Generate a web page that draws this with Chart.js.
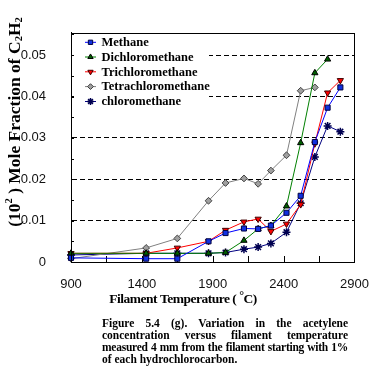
<!DOCTYPE html>
<html><head><meta charset="utf-8">
<script src="https://cdn.jsdelivr.net/npm/chart.js@4.4.1/dist/chart.umd.min.js"></script>
<style>
html,body{margin:0;padding:0;background:#fff;}
#wrap{position:relative;width:384px;height:381px;overflow:hidden;}
#c{position:absolute;left:0;top:0;}
#cap{position:absolute;left:102px;top:316.5px;width:246px;font:bold 11.5px "Liberation Serif","Times New Roman",serif;line-height:12.2px;color:#000;}
#cap div{white-space:nowrap;}
#cap .j{text-align:justify;text-align-last:justify;}
#cap .t{letter-spacing:-0.25px;}
</style></head><body>
<div id="wrap"><canvas id="c" width="384" height="381"></canvas>
<div id="cap"><div class="j">Figure 5.4 (g). Variation in the acetylene</div><div class="j">concentration versus filament temperature</div><div class="j t">measured 4 mm from the filament starting with 1%</div><div>of each hydrochlorocarbon.</div></div></div>
<script>
// ---- data ----
const temperatures = [900, 1430, 1650, 1870, 1990, 2120, 2220, 2310, 2420, 2520, 2620, 2710, 2800];
const methane          = [0.0010, 0.0008, 0.0008, 0.0050, 0.0070, 0.0081, 0.0080, 0.0088, 0.0119, 0.0160, 0.0290, 0.0373, 0.0422];
const dichloromethane  = [0.0021, 0.0021, 0.0021, 0.0021, 0.0023, 0.0052, 0.0080, 0.0088, 0.0135, 0.0288, 0.0457, 0.0490, null];
const trichloromethane = [0.0021, 0.0021, 0.0034, 0.0050, 0.0077, 0.0097, 0.0104, 0.0074, 0.0092, 0.0139, 0.0286, 0.0409, 0.0439];
const tetrachloromethane = [0.0008, 0.0034, 0.0057, 0.0148, 0.0191, 0.0202, 0.0189, 0.0221, 0.0258, 0.0414, 0.0422, null, null];
const chloromethane    = [0.0017, 0.0021, 0.0021, 0.0021, 0.0023, 0.0031, 0.0036, 0.0045, 0.0072, 0.0142, 0.0254, 0.0329, 0.0315];
const seriesNames = ['Methane', 'Dichloromethane', 'Trichloromethane', 'Tetrachloromethane', 'chloromethane'];
const xTickLabels = [900, 1400, 1900, 2400, 2900];
const yTickLabels = [0, 0.01, 0.02, 0.03, 0.04, 0.05];

const SERIF = '"Liberation Serif","Times New Roman",serif';
const SANS = '"Liberation Sans",Arial,sans-serif';

function pts(vals) {
  const out = [];
  vals.forEach((v, i) => { if (v !== null) out.push({x: temperatures[i], y: v}); });
  return out;
}
const styles = [
  {line: '#0000FF', fill: '#1030E0', border: '#000040', style: 'rect', r: 3.6, rot: 0, bw: 1},
  {line: '#008000', fill: '#006000', border: '#000000', style: 'triangle', r: 3.6, rot: 0, bw: 1},
  {line: '#FF0000', fill: '#FF0000', border: '#400000', style: 'triangle', r: 3.6, rot: 180, bw: 1},
  {line: '#808080', fill: '#A0A0A0', border: '#404040', style: 'rectRot', r: 3.4, rot: 0, bw: 1},
  {line: '#000080', fill: '#000080', border: '#000050', style: 'star', r: 4, rot: 0, bw: 1.5}
];
const seriesValues = [methane, dichloromethane, trichloromethane, tetrachloromethane, chloromethane];
const datasets = seriesValues.map((vals, i) => ({
  label: seriesNames[i],
  data: pts(vals),
  borderColor: styles[i].line,
  backgroundColor: styles[i].fill,
  borderWidth: 1,
  pointStyle: styles[i].style,
  pointRotation: styles[i].rot,
  pointRadius: styles[i].r,
  pointBackgroundColor: styles[i].fill,
  pointBorderColor: styles[i].border,
  pointBorderWidth: styles[i].bw,
  tension: 0,
  clip: 4
}));

function drawRich(ctx, parts, size, spacing) {
  let w = 0;
  ctx.letterSpacing = (spacing || 0) + 'px';
  parts.forEach(p => { ctx.font = 'bold ' + (p.s || size) + 'px ' + SERIF; p.w = ctx.measureText(p.t).width; w += p.w; });
  let x = -w / 2;
  ctx.textBaseline = 'middle';
  ctx.textAlign = 'left';
  parts.forEach(p => { ctx.font = 'bold ' + (p.s || size) + 'px ' + SERIF; ctx.fillText(p.t, x, p.dy || 0); x += p.w; });
  ctx.letterSpacing = '0px';
}

function marker(ctx, st, x, y) {
  ctx.save();
  ctx.fillStyle = st.fill; ctx.strokeStyle = st.border; ctx.lineWidth = st.bw;
  if (Chart.helpers && Chart.helpers.drawPoint) {
    Chart.helpers.drawPoint(ctx, {pointStyle: st.style, radius: st.r, rotation: st.rot, borderWidth: st.bw}, x, y);
  }
  ctx.restore();
}

const decor = {
  id: 'decor',
  beforeDatasetsDraw(chart) {
    const ctx = chart.ctx, a = chart.chartArea;
    const xs = chart.scales.x, ys = chart.scales.y;
    ctx.save();
    // legend box (white background over grid)
    ctx.fillStyle = '#fff';
    ctx.fillRect(a.left + 3, 27, 135, 83);
    const ly = [42.3, 57, 71.8, 86.6, 101.5];
    datasets.forEach((d, i) => {
      ctx.strokeStyle = styles[i].line; ctx.lineWidth = 1;
      ctx.beginPath(); ctx.moveTo(85, ly[i]); ctx.lineTo(96, ly[i]); ctx.stroke();
      marker(ctx, Object.assign({}, styles[i], {r: styles[i].r * 0.85}), 90.5, ly[i]);
      ctx.fillStyle = '#000'; ctx.font = 'bold 12.5px ' + SERIF;
      ctx.textBaseline = 'middle'; ctx.textAlign = 'left';
      ctx.fillText(d.label, 101.5, ly[i] + 0.5);
    });
    // inward minor ticks
    ctx.strokeStyle = '#000'; ctx.lineWidth = 1;
    for (let v = 0.005; v < ys.max; v += 0.005) {
      const py = Math.round(ys.getPixelForValue(v)) + 0.5;
      ctx.beginPath(); ctx.moveTo(a.left, py); ctx.lineTo(a.left + 3, py); ctx.stroke();
    }
    for (let t = 1150; t < xs.max; t += 250) {
      const px = Math.round(xs.getPixelForValue(t)) + 0.5;
      ctx.beginPath(); ctx.moveTo(px, a.bottom); ctx.lineTo(px, a.bottom - 6); ctx.stroke();
    }
    ctx.restore();
  },
  afterDraw(chart) {
    const ctx = chart.ctx, a = chart.chartArea;
    ctx.save();
    ctx.setLineDash([]);
    ctx.strokeStyle = '#000'; ctx.lineWidth = 1;
    ctx.strokeRect(Math.round(a.left) + 0.5, Math.round(a.top) + 0.5, Math.round(a.right - a.left) - 1, Math.round(a.bottom - a.top));
    ctx.fillStyle = '#000';
    // y axis title
    ctx.save();
    ctx.translate(15, 122);
    ctx.rotate(-Math.PI / 2);
    drawRich(ctx, [{t: '(10'}, {t: '2', s: 10.5, dy: -6}, {t: ' ) Mole Fraction of C'}, {t: '2', s: 10.5, dy: 4}, {t: 'H'}, {t: '2', s: 10.5, dy: 4}], 17.5, 0);
    ctx.restore();
    // x axis title
    ctx.save();
    ctx.translate(183, 300);
    drawRich(ctx, [{t: 'Filament Temperature ( '}, {t: '\u00B0', s: 12, dy: -4}, {t: 'C)'}], 13.5, -0.5);
    ctx.restore();
    ctx.restore();
  }
};

new Chart(document.getElementById('c'), {
  type: 'line',
  data: {datasets},
  options: {
    responsive: false,
    animation: false,
    devicePixelRatio: 1,
    layout: {padding: {top: 6, right: 22, left: 0, bottom: 0}},
    plugins: {legend: {display: false}, tooltip: {enabled: false}},
    scales: {
      x: {
        type: 'linear', min: 900, max: 2900,
        afterFit(s) { s.height = 119; },
        afterBuildTicks(s) { s.ticks = xTickLabels.map(v => ({value: v})); },
        grid: {display: false, drawTicks: false},
        border: {display: true, color: '#000'},
        ticks: {padding: 15, color: '#111', font: {family: SANS, size: 13}, maxRotation: 0, autoSkip: false,
                callback: v => String(v)}
      },
      y: {
        type: 'linear', min: 0, max: 0.0554,
        afterFit(s) { s.width = 71; },
        afterBuildTicks(s) { s.ticks = yTickLabels.map(v => ({value: v})); },
        grid: {drawTicks: false, color: c => (c.tick && c.tick.value > 0 ? '#000' : 'rgba(0,0,0,0)'), lineWidth: 1},
        border: {display: true, color: '#000', dash: [5, 3]},
        ticks: {padding: 25, color: '#111', font: {family: SANS, size: 13}, autoSkip: false,
                callback: v => (v === 0 ? '0' : v.toFixed(2))}
      }
    }
  },
  plugins: [decor]
});
</script>
</body></html>
